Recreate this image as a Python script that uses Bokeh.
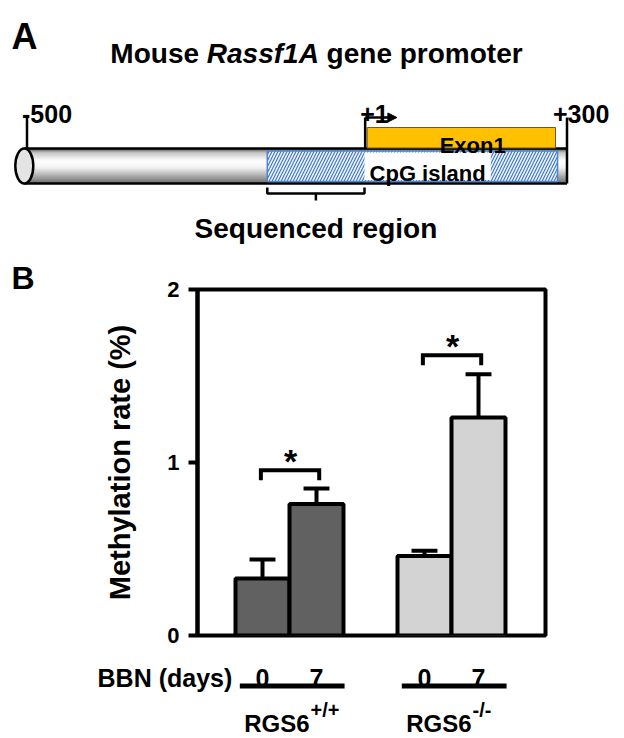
import numpy as np
from bokeh.plotting import figure
from bokeh.models import Range1d, FixedTicker, Arrow, NormalHead, Title
from bokeh.core.properties import value
from bokeh.embed import file_html
from bokeh.resources import INLINE

FONT = "Liberation Sans"

# ---------------- Panel A data (bp relative to transcription start) -------------
promoter_bp = [-504, 300]
site_bp = [-500, 1, 300]
site_labels = ["-500", "+1", "+300"]
exon1_bp = [4, 283]
cpg_island_bp = [-144, 286]
cpg_label_bp = [0, 187]
sequenced_bp = [-144, 0]
tss_arrow_bp = [1, 48]
title_parts = ["Mouse", "Rassf1A", "gene promoter"]

# ---------------- Panel B data -------------------------------------------------
bbn_days = ["0", "7", "0", "7"]
bar_pos = [1, 2, 4, 5]
methylation = [0.33, 0.76, 0.46, 1.26]
sem = [0.11, 0.09, 0.03, 0.25]
genotype = ["RGS6", "RGS6"]
genotype_sup = ["+/+", "-/-"]
group_members = [[1, 2], [4, 5]]
sig_pairs = [(1, 2), (4, 5)]
sig_heights = [0.955, 1.62]
y_ticks = [0, 1, 2]

DARK = "#616161"
LIGHT = "#d3d3d3"
bar_colors = [DARK, DARK, LIGHT, LIGHT]

W = 624

# ============================== Panel A ==========================================
A_TOP, A_BOT = 0, 249
PX_PER_BP = 0.675
TSS_PX = 364


def bp_at(px):
    return (px - TSS_PX) / PX_PER_BP


pA = figure(width=W, height=A_BOT - A_TOP,
            x_range=Range1d(bp_at(0), bp_at(W)), y_range=Range1d(A_BOT, A_TOP),
            output_backend="svg", toolbar_location=None, min_border=0,
            x_axis_location=None, y_axis_location=None,
            outline_line_color=None, background_fill_color="white",
            border_fill_color="white")
pA.grid.visible = False

# title (mixed italic)
em = {"Mouse": 3.167, "Rassf1A": 4.001, "gene promoter": 7.001}
SPACE = 0.278
TFS = 28
total = (sum(em[t] for t in title_parts) + SPACE * (len(title_parts) - 1)) * TFS
x_px = 316 - total / 2
for part in title_parts:
    pA.text(x=[bp_at(x_px)], y=[53], text=[part], text_font=value(FONT),
            text_font_size=f"{TFS}px",
            text_font_style="bold italic" if part == "Rassf1A" else "bold",
            text_align="left", text_baseline="alphabetic", text_color="black")
    x_px += (em[part] + SPACE) * TFS

pA.text(x=[bp_at(11)], y=[36], text=["A"], text_font=value(FONT), text_font_size="36px",
        text_font_style="bold", text_align="left", text_baseline="alphabetic")

# tube with cylindrical shading
TUBE_T, TUBE_B = 148, 183
n = 35
edges = np.linspace(TUBE_T, TUBE_B, n + 1)
t = (np.arange(n) + 0.5) / n
bright = np.interp(t, [0, 0.12, 0.35, 0.55, 1.0], [0.30, 0.78, 1.0, 0.95, 0.42])
cols = ["#{0:02x}{0:02x}{0:02x}".format(int(b * 255)) for b in bright]
pA.quad(left=promoter_bp[0], right=promoter_bp[1], top=edges[:-1],
        bottom=edges[1:] + 0.4, fill_color=cols, line_color=None)
pA.segment(x0=[promoter_bp[0]] * 2, y0=[TUBE_T, TUBE_B], x1=[promoter_bp[1]] * 2,
           y1=[TUBE_T, TUBE_B], line_color="black", line_width=2.5)
pA.ellipse(x=[promoter_bp[0]], y=[(TUBE_T + TUBE_B) / 2], width=18, height=35,
           width_units="screen", height_units="screen", fill_color="#e4e4e4",
           line_color="black", line_width=2.5)

# CpG island (hatched) and its label box
pA.quad(left=cpg_island_bp[0], right=cpg_island_bp[1], top=150.5, bottom=181,
        fill_color="#edf3fb", hatch_pattern="/", hatch_color="#3a74c4",
        hatch_scale=6, hatch_weight=1.1, line_color="#4f86d0", line_width=1.5)
pA.quad(left=cpg_label_bp[0], right=cpg_label_bp[1], top=152, bottom=179.5,
        fill_color="white", line_color=None)
pA.text(x=[sum(cpg_label_bp) / 2], y=[173], text=["CpG island"], text_font=value(FONT),
        text_font_size="22px", text_font_style="bold", text_align="center",
        text_baseline="alphabetic")

# Exon 1
pA.quad(left=exon1_bp[0], right=exon1_bp[1], top=127, bottom=147.5,
        fill_color="#FFC000", line_color="#6b5a2a", line_width=1)
pA.text(x=[exon1_bp[0] + 0.56 * (exon1_bp[1] - exon1_bp[0])], y=[145], text=["Exon1"],
        text_font=value(FONT), text_font_size="22px", text_font_style="bold",
        text_align="center", text_baseline="alphabetic")

# site ticks
pA.segment(x0=site_bp, y0=[117, 117, 117], x1=site_bp, y1=[TUBE_T, TUBE_T, TUBE_B],
           line_color="black", line_width=2.5)
pA.add_layout(Arrow(x_start=tss_arrow_bp[0], y_start=117, x_end=tss_arrow_bp[1], y_end=117,
                    line_width=2.5, line_color="black",
                    end=NormalHead(size=9, fill_color="black", line_color="black")))
site_off = [-5, -5, -14]
for b, lab, off in zip(site_bp, site_labels, site_off):
    pA.text(x=[b], y=[113], x_offset=off, text=[lab], text_font=value(FONT),
            text_font_size="25px", text_font_style="bold", text_align="left",
            text_baseline="alphabetic")

# sequenced region bracket
mid = sum(sequenced_bp) / 2
pA.multi_line(xs=[[sequenced_bp[0], sequenced_bp[0], sequenced_bp[1], sequenced_bp[1]],
                  [mid, mid]],
              ys=[[187, 193, 193, 187], [193, 200]], line_color="black", line_width=2.5)
pA.text(x=[mid], y=[228], text=["Sequenced region"], text_font=value(FONT),
        text_font_size="28px", text_font_style="bold", text_align="center",
        text_baseline="alphabetic")

# ============================== Panel B ==========================================
B_TOP, FR_TOP, FR_BOT, B_BOT = 249, 289, 635, 650
FR_L, FR_R = 197, 545
PX_PER_UNIT_X = 54
X0_PX = 208


def xb(px):
    return (px - X0_PX) / PX_PER_UNIT_X


pB = figure(width=W, height=B_BOT - B_TOP,
            x_range=Range1d(xb(FR_L), xb(FR_R)), y_range=Range1d(0, 2),
            output_backend="svg", toolbar_location=None,
            min_border_left=FR_L, min_border_right=W - FR_R,
            min_border_top=FR_TOP - B_TOP, min_border_bottom=B_BOT - FR_BOT,
            x_axis_location=None, outline_line_color="black", outline_line_width=4,
            background_fill_color="white", border_fill_color="white")
pB.title = Title(text="B", align="left", offset=11 - FR_L, vertical_align="bottom",
                 standoff=-12, text_font=FONT, text_font_size="32px",
                 text_font_style="bold", text_color="black")
pB.grid.visible = False
ya = pB.yaxis[0]
ya.ticker = FixedTicker(ticks=y_ticks)
ya.minor_tick_line_color = None
ya.major_tick_out = 9
ya.major_tick_in = 0
ya.major_tick_line_width = 4
ya.axis_line_width = 4
ya.major_label_standoff = 9
ya.major_label_text_font = FONT
ya.major_label_text_font_size = "22px"
ya.major_label_text_font_style = "bold"
ya.major_label_text_color = "black"
ya.axis_label = "Methylation rate (%)"
ya.axis_label_text_font = FONT
ya.axis_label_text_font_size = "29px"
ya.axis_label_text_font_style = "bold"
ya.axis_label_text_color = "black"
ya.axis_label_standoff = 28

pB.vbar(x=bar_pos, top=methylation, width=1.0, fill_color=bar_colors,
        line_color="black", line_width=4)
err_top = [m + s for m, s in zip(methylation, sem)]
CAP = 0.24
pB.segment(x0=bar_pos, y0=methylation, x1=bar_pos, y1=err_top,
           line_color="black", line_width=4)
pB.segment(x0=[x - CAP for x in bar_pos], y0=err_top, x1=[x + CAP for x in bar_pos],
           y1=err_top, line_color="black", line_width=4)

DROP = 10 / 173
for (a, b), h in zip(sig_pairs, sig_heights):
    pB.line(x=[a - 0.03, a - 0.03, b + 0.05, b + 0.05], y=[h - DROP, h, h, h - DROP],
            line_color="black", line_width=4, line_join="miter")
    pB.text(x=[(a + b) / 2 + 0.02], y=[h], y_offset=-9, text=["*"], text_font=value(FONT),
            text_font_size="34px", text_font_style="bold", text_align="center",
            text_baseline="alphabetic")

# ============================== Panel B labels below ==============================
C_TOP, C_BOT = 650, 738
pC = figure(width=W, height=C_BOT - C_TOP,
            x_range=Range1d(xb(0), xb(W)), y_range=Range1d(C_BOT, C_TOP),
            output_backend="svg", toolbar_location=None, min_border=0,
            x_axis_location=None, y_axis_location=None, outline_line_color=None,
            background_fill_color="white", border_fill_color="white")
pC.grid.visible = False

pC.text(x=[bar_pos[0] - 0.56], y=[677], text=["BBN (days)"], text_font=value(FONT),
        text_font_size="25px", text_font_style="bold", text_align="right",
        text_baseline="alphabetic")
pC.text(x=bar_pos, y=[677] * 4, text=bbn_days, text_font=value(FONT),
        text_font_size="25px", text_font_style="bold", text_align="center",
        text_baseline="alphabetic")
pC.segment(x0=[min(g) - 0.42 for g in group_members], y0=[685.5] * 2,
           x1=[max(g) + 0.52 for g in group_members], y1=[685.5] * 2,
           line_color="black", line_width=5)
gc = [sum(g) / 2 for g in group_members]
pC.text(x=gc, y=[723] * 2, x_offset=20, text=genotype, text_font=value(FONT),
        text_font_size="24px", text_font_style="bold", text_align="right",
        text_baseline="alphabetic")
pC.text(x=gc, y=[709] * 2, x_offset=21, text=genotype_sup, text_font=value(FONT),
        text_font_size="20px", text_font_style="bold", text_align="left",
        text_baseline="alphabetic")

# three independent roots stacked on the page (no frame alignment between them)
open("out.html", "w").write(file_html([pA, pB, pC], INLINE))
